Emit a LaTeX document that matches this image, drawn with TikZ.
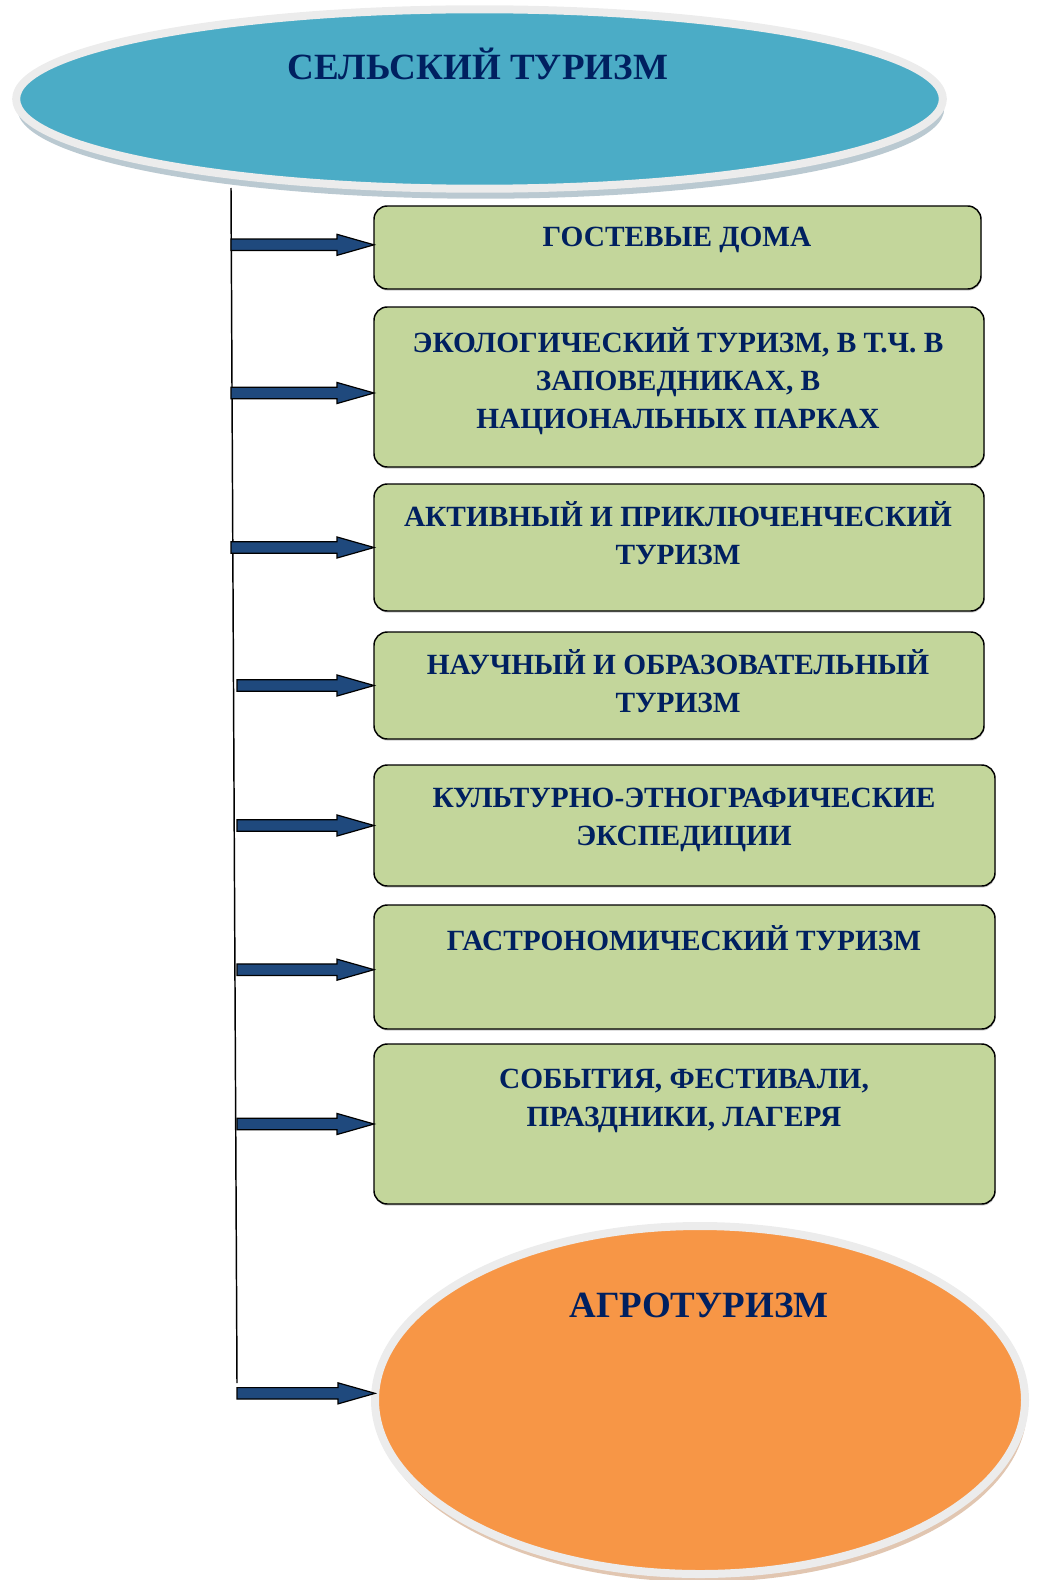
\documentclass[tikz,border=0pt]{standalone}
\usepackage{fontspec}
\setmainfont{Liberation Serif}
\usetikzlibrary{shapes.geometric,shadows,calc}

\tikzset{every picture/.style={line width=0.75pt}}
\tikzset{
oval/.style={ellipse, draw={rgb, 255:red, 236; green, 236; blue, 236 }, line width=6pt, inner sep=0pt, outer sep=0pt},
typebox/.style={rectangle, rounded corners=10pt, draw=black, line width=1.1pt, fill={rgb, 255:red, 195; green, 214; blue, 155 }, outer sep=0pt,
  drop shadow={shadow xshift=0.4pt, shadow yshift=-1.2pt, fill=black, opacity=0.2}},
boxtext/.style={anchor=north, inner sep=0.75pt, align=center, text={rgb, 255:red, 0; green, 32; blue, 96 },
  font=\fontsize{22}{28.5}\selectfont\bfseries, execute at begin node=\strut},
headtext/.style={anchor=base, inner sep=0.75pt, text={rgb, 255:red, 0; green, 32; blue, 96 },
  font=\fontsize{27.75}{34}\selectfont\bfseries},
trunk/.style={draw=black, line width=1.1pt},
blockarrow/.style={draw=black, line width=0.9pt, fill={rgb, 255:red, 31; green, 73; blue, 125 },
  to path={let \p1=(\tikztostart), \p2=(\tikztotarget) in
    (\x1,\y2+4.3pt) -- (\x2-27.75pt,\y2+4.3pt) -- (\x2-27.75pt,\y2+7.9pt) -- (\x2,\y2)
    -- (\x2-27.75pt,\y2-7.9pt) -- (\x2-27.75pt,\y2-4.3pt) -- (\x1,\y2-4.3pt) -- cycle}}
}

\begin{document}
\begin{tikzpicture}[x=0.75pt,y=0.75pt,yscale=-1,xscale=1]
\useasboundingbox (0,0) rectangle (1039,1580);

%Straight Lines [trunk]
\coordinate (trunktop) at (231,188);
\coordinate (trunkbot) at (237,1383);
\draw [trunk] (trunktop) -- (trunkbot);

%Shape: Ellipse [selsk]
\node [oval, fill={rgb, 255:red, 75; green, 172; blue, 198 }, minimum width=695pt, minimum height=134.6pt,
  drop shadow={shadow xshift=1pt, shadow yshift=-7.5pt, fill={rgb, 255:red, 140; green, 165; blue, 178 }, opacity=0.6}] (selsk) at (479.5,99) {};
%Shape: Ellipse [agro]
\node [oval, fill={rgb, 255:red, 247; green, 150; blue, 70 }, minimum width=487.5pt, minimum height=261pt,
  drop shadow={shadow xshift=1.5pt, shadow yshift=-6pt, fill={rgb, 255:red, 205; green, 160; blue, 125 }, opacity=0.6}] (agro) at (700,1400) {};

%Shape: Rounded Rect
\node [typebox, minimum width=455.25pt, minimum height=62.25pt] (gd) at (677.5,247.5) {};
\node [typebox, minimum width=457.5pt, minimum height=120pt] (eco) at (679,387) {};
\node [typebox, minimum width=457.5pt, minimum height=95.25pt] (akt) at (679,547.5) {};
\node [typebox, minimum width=457.5pt, minimum height=80.25pt] (nauch) at (679,685.5) {};
\node [typebox, minimum width=465.75pt, minimum height=90.75pt] (kult) at (684.5,825.5) {};
\node [typebox, minimum width=465.75pt, minimum height=93pt] (gastro) at (684.5,967) {};
\node [typebox, minimum width=465.75pt, minimum height=120pt] (sob) at (684.5,1124) {};

%Block Arrows
\draw [blockarrow] (gd.west -| trunktop) to ([yshift=-2pt]gd.west);
\draw [blockarrow] (eco.west -| trunktop) to ([yshift=4.5pt]eco.west);
\draw [blockarrow] (akt.west -| trunktop) to (akt.west);
\draw [blockarrow] (nauch.west -| trunkbot) to (nauch.west);
\draw [blockarrow] (kult.west -| trunkbot) to (kult.west);
\draw [blockarrow] (gastro.west -| trunkbot) to ([yshift=2pt]gastro.west);
\draw [blockarrow] (sob.west -| trunkbot) to (sob.west);
\draw [blockarrow] (agro.west -| trunkbot) to ([yshift=-5pt]agro.west);

% Text Node
\node [headtext] (selsktxt) at (478,80) {СЕЛЬСКИЙ ТУРИЗМ};
% Text Node
\node [headtext] (agrotxt) at (699,1317) {АГРОТУРИЗМ};
% Text Node
\node [boxtext] (gdtxt) at (677,218) {ГОСТЕВЫЕ ДОМА};
% Text Node
\node [boxtext] (ecotxt) at (678,326) {ЭКОЛОГИЧЕСКИЙ ТУРИЗМ, В Т.Ч. В\\ЗАПОВЕДНИКАХ, В\\НАЦИОНАЛЬНЫХ ПАРКАХ};
% Text Node
\node [boxtext] (akttxt) at (678,500) {АКТИВНЫЙ И ПРИКЛЮЧЕНЧЕСКИЙ\\ТУРИЗМ};
% Text Node
\node [boxtext] (nauchtxt) at (678,648) {НАУЧНЫЙ И ОБРАЗОВАТЕЛЬНЫЙ\\ТУРИЗМ};
% Text Node
\node [boxtext] (kulttxt) at (684,787) {КУЛЬТУРНО-ЭТНОГРАФИЧЕСКИЕ\\ЭКСПЕДИЦИИ};
% Text Node
\node [boxtext] (gastrotxt) at (684,922) {ГАСТРОНОМИЧЕСКИЙ ТУРИЗМ};
% Text Node
\node [boxtext] (sobtxt) at (684,1068) {СОБЫТИЯ, ФЕСТИВАЛИ,\\ПРАЗДНИКИ, ЛАГЕРЯ};

\end{tikzpicture}
\end{document}
